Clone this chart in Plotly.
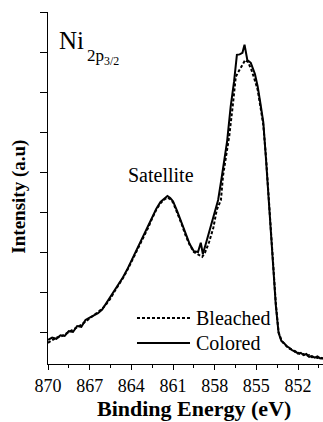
import plotly.graph_objects as go

# Binding energy (eV) and intensity (a.u.)
colored_ev = [870.0, 869.7, 869.4, 869.1, 868.8, 868.5, 868.2, 867.9, 867.6, 867.3,
              867.0, 866.7, 866.4, 866.1, 865.8, 865.5, 865.2, 864.9, 864.6, 864.3,
              864.0, 863.7, 863.4, 863.1, 862.8, 862.5, 862.2, 861.9, 861.6, 861.4,
              861.2, 861.0, 860.7, 860.4, 860.1, 859.8, 859.5, 859.2, 859.0, 858.85,
              858.6, 858.3, 858.0, 857.75, 857.5, 857.3, 857.1, 856.85, 856.6, 856.4,
              856.2, 856.0, 855.85, 855.65, 855.4, 855.1, 854.9, 854.7, 854.5, 854.3,
              854.1, 853.95, 853.8, 853.6, 853.4, 853.2, 853.0, 852.8, 852.6, 852.4,
              852.2, 852.0, 851.8, 851.6, 851.4, 851.2, 851.0, 850.8, 850.6, 850.4, 850.2]
colored_i = [0.60, 0.66, 0.63, 0.72, 0.70, 0.82, 0.80, 0.95, 0.93, 1.10,
             1.16, 1.22, 1.27, 1.36, 1.52, 1.66, 1.85, 2.00, 2.17, 2.36,
             2.58, 2.80, 2.98, 3.22, 3.42, 3.68, 3.88, 4.05, 4.14, 4.20,
             4.15, 4.07, 3.82, 3.55, 3.24, 3.00, 2.82, 2.80, 3.03, 2.75,
             3.05, 3.40, 3.75, 4.10, 4.65, 5.15, 5.58, 6.43, 7.07, 7.73,
             7.74, 7.78, 7.98, 7.60, 7.53, 7.25, 6.93, 6.50, 6.05, 5.10,
             4.10, 3.25, 2.55, 1.48, 0.78, 0.58, 0.52, 0.44, 0.40, 0.34,
             0.32, 0.26, 0.28, 0.22, 0.25, 0.18, 0.20, 0.16, 0.19, 0.14, 0.15]

bleached_ev = [870.0, 869.7, 869.4, 869.1, 868.8, 868.5, 868.2, 867.9, 867.6, 867.3,
               867.0, 866.7, 866.4, 866.1, 865.8, 865.5, 865.2, 864.9, 864.6, 864.3,
               864.0, 863.7, 863.4, 863.1, 862.8, 862.5, 862.2, 861.9, 861.6, 861.4,
               861.2, 861.0, 860.7, 860.4, 860.1, 859.8, 859.5, 859.2, 858.9, 858.7,
               858.4, 858.1, 857.85, 857.55, 857.4, 857.2, 856.95, 856.7, 856.48, 856.3,
               856.1, 855.8, 855.6, 855.35, 855.05, 854.9, 854.7, 854.5, 854.3, 854.1,
               853.95, 853.8, 853.6, 853.4, 853.2, 853.0, 852.8, 852.6, 852.4, 852.2,
               852.0, 851.8, 851.6, 851.4, 851.2, 851.0, 850.8, 850.6, 850.4, 850.2]
bleached_i = [0.53, 0.60, 0.66, 0.68, 0.74, 0.78, 0.84, 0.92, 0.98, 1.06,
              1.14, 1.20, 1.30, 1.38, 1.50, 1.64, 1.82, 1.98, 2.15, 2.34,
              2.55, 2.76, 2.96, 3.18, 3.40, 3.64, 3.86, 4.02, 4.12, 4.16,
              4.12, 4.04, 3.80, 3.52, 3.22, 2.98, 2.80, 2.74, 2.68, 2.78,
              3.05, 3.40, 3.85, 4.10, 4.70, 5.15, 5.70, 6.45, 7.18, 7.30,
              7.43, 7.60, 7.55, 7.35, 7.03, 6.85, 6.42, 5.98, 5.15, 4.10,
              3.25, 2.58, 1.52, 0.80, 0.60, 0.50, 0.45, 0.38, 0.36, 0.30,
              0.28, 0.24, 0.25, 0.20, 0.22, 0.17, 0.18, 0.15, 0.16, 0.13]

series_names = ["Bleached", "Colored"]
series_dash = ["3px,2px", "solid"]

x_range = [870, 850.2]
y_range = [0, 8.8]
serif = "Liberation Serif"

fig = go.Figure()
fig.add_trace(go.Scatter(x=bleached_ev, y=bleached_i, mode="lines", name=series_names[0],
                         line=dict(color="black", width=2, dash=series_dash[0])))
fig.add_trace(go.Scatter(x=colored_ev, y=colored_i, mode="lines", name=series_names[1],
                         line=dict(color="black", width=2, dash=series_dash[1])))

fig.update_layout(
    width=323, height=422,
    margin=dict(l=48, r=0, t=12, b=58),
    paper_bgcolor="white", plot_bgcolor="white",
    font=dict(family=serif, color="black", size=18),
    showlegend=False,
    xaxis=dict(range=x_range, tick0=852, dtick=3, ticks="outside", ticklen=5,
               tickwidth=1, tickcolor="black", showline=True, linecolor="black",
               linewidth=1, showgrid=False, zeroline=False,
               tickfont=dict(size=18, family=serif),
               minor=dict(dtick=1.5, ticks="outside", ticklen=3, tickcolor="black")),
    xaxis2=dict(range=x_range, overlaying="x", side="top", anchor="y", tick0=852,
                dtick=1.5, ticks="inside", ticklen=5, tickcolor="black",
                showticklabels=False, showline=True, linecolor="black", linewidth=1,
                showgrid=False, zeroline=False),
    yaxis=dict(range=y_range, tick0=0.8, dtick=1, ticks="outside", ticklen=7,
               tickcolor="black", showticklabels=False, showline=True,
               linecolor="black", linewidth=1, showgrid=False, zeroline=False),
    yaxis2=dict(range=y_range, overlaying="y", side="right", anchor="x", tick0=0.8,
                dtick=1, ticks="inside", ticklen=5, tickcolor="black",
                showticklabels=False, showline=True, linecolor="black", linewidth=1,
                showgrid=False, zeroline=False),
)

# legend drawn as line samples + labels (longer samples than plotly's built-in legend)
legend_rows_y = [0.1307, 0.0597]
for name, dash, ly in zip(series_names, series_dash, legend_rows_y):
    fig.add_shape(type="line", xref="paper", yref="paper", x0=0.3236, x1=0.5164,
                  y0=ly, y1=ly, line=dict(color="black", width=2, dash=dash))
    fig.add_annotation(x=0.5309, y=ly, xref="paper", yref="paper", text=name,
                       xanchor="left", yanchor="middle", showarrow=False,
                       font=dict(size=20, family=serif))

fig.add_annotation(x=0.531, y=-0.087, xref="paper", yref="paper",
                   text="<b>Binding Energy (eV)</b>", showarrow=False,
                   xanchor="center", yanchor="top", borderpad=0,
                   font=dict(size=22, family=serif))
fig.add_annotation(x=-0.1036, y=0.474, xref="paper", yref="paper",
                   text="<b>Intensity (a.u)</b>", showarrow=False, textangle=-90,
                   xanchor="center", yanchor="middle",
                   font=dict(size=19, family=serif))
fig.add_annotation(x=861.9, y=4.72, xref="x", yref="y", text="Satellite",
                   showarrow=False, font=dict(size=20, family=serif))
fig.add_annotation(x=0.036, y=0.92, xref="paper", yref="paper", xanchor="left",
                   yanchor="middle", text="Ni", showarrow=False, borderpad=0,
                   font=dict(size=25, family=serif))
fig.add_annotation(x=0.138, y=0.873, xref="paper", yref="paper", xanchor="left",
                   yanchor="middle", text="2p<sub>3/2</sub>", showarrow=False,
                   borderpad=0, font=dict(size=17, family=serif))

fig.write_html("out.html")
